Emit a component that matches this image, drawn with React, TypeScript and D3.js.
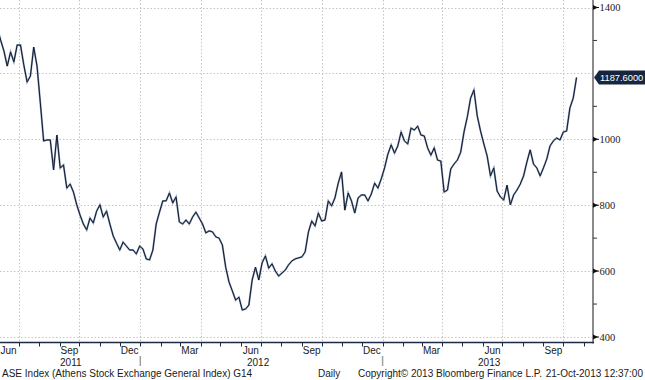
import React from "react";
import * as d3 from "d3";

// ---- data ----
const seriesStart = new Date(2011, 4, 30); // first sample
const sampleStepDays = 5;
const closes = [
  1338, 1301, 1268, 1222, 1265, 1235, 1286, 1286, 1226, 1174,
  1192, 1280, 1222, 1110, 995, 998, 998, 907, 1013, 913,
  922, 852, 864, 840, 801, 770, 743, 725, 761, 746,
  782, 801, 764, 782, 743, 707, 685, 664, 688, 676,
  664, 664, 652, 676, 667, 637, 634, 664, 743, 779,
  813, 813, 837, 807, 825, 749, 743, 755, 743, 764,
  779, 761, 743, 716, 722, 719, 704, 700, 679, 612,
  567, 540, 512, 521, 482, 485, 497, 573, 612, 573,
  625, 646, 609, 622, 600, 585, 594, 603, 619, 631,
  637, 640, 643, 658, 719, 752, 737, 776, 752, 755,
  813, 798, 822, 867, 901, 785, 837, 813, 776, 822,
  831, 831, 813, 834, 867, 852, 880, 913, 955, 983,
  958, 980, 1022, 995, 986, 1034, 1028, 1040, 1013, 1010,
  974, 952, 974, 937, 934, 840, 846, 910, 925, 937,
  961, 1022, 1068, 1125, 1150, 1071, 1025, 986, 949, 889,
  913, 843, 825, 816, 861, 801, 831, 846, 864, 889,
  931, 968, 925, 913, 889, 913, 940, 980, 995, 1004,
  998, 1022, 1025, 1095, 1125, 1187.6,
];
const yTickLabels = [400, 600, 800, 1000, 1400];
const yGridValues = [400, 600, 800, 1000, 1200, 1400];
const yMinorValues = [500, 700, 900, 1100, 1300];
const yearLabels = ["2011", "2012", "2013"];
const yearLabelDates = [new Date(2011, 8, 18), new Date(2012, 5, 27), new Date(2013, 5, 11)];
const yearBreaks = [new Date(2012, 0, 1), new Date(2013, 0, 1)];
const lastPrice = 1187.6;
const footerTitle = "ASE Index (Athens Stock Exchange General Index) G14";
const footerFreq = "Daily";
const footerCopy = "Copyright\u00A9 2013 Bloomberg Finance L.P.";
const footerStamp = "21-Oct-2013 12:37:00";

const W = 645;
const H = 380;
const plotRight = 593;
const axisY = 342.5;

export default function App() {
  const dates = closes.map((_, i) => d3.timeDay.offset(seriesStart, sampleStepDays * i));

  const x = d3
    .scaleTime()
    .domain([new Date(2011, 6, 1), new Date(2013, 9, 1)])
    .range([18.5, 563.3]);
  const y = d3.scaleLinear().domain([400, 1400]).range([337, 7.5]);

  const line = d3
    .line<number>()
    .x((_, i) => x(dates[i]))
    .y((d) => y(d));

  const months = d3.timeMonth.range(new Date(2011, 5, 1), new Date(2013, 10, 2));
  const quarterStarts = months.filter((m) => m.getMonth() % 3 === 0);
  const labelMonths = months.filter((m) => m.getMonth() % 3 === 2);
  const fmt = d3.timeFormat("%b");

  const yl = y(lastPrice);
  const sans = "'Liberation Sans', Arial, sans-serif";
  const serif = "'Liberation Serif', 'Times New Roman', serif";

  return (
    <svg
      width={W}
      height={H}
      style={{ position: "absolute", left: 0, top: 0, display: "block", background: "#fff" }}
    >
      <defs>
        <clipPath id="plotClip">
          <rect x={0} y={0} width={plotRight} height={axisY} />
        </clipPath>
      </defs>
      <rect x={0} y={0} width={W} height={H} fill="#fff" />

      {/* grid */}
      <g stroke="#c4c4c4" strokeWidth={1} strokeDasharray="1.5,2">
        {yGridValues.map((v) => (
          <line key={"gy" + v} x1={0} x2={plotRight} y1={Math.round(y(v)) + 0.5} y2={Math.round(y(v)) + 0.5} />
        ))}
        {quarterStarts.map((d) => (
          <line
            key={"gx" + d.getTime()}
            x1={Math.round(x(d)) + 0.5}
            x2={Math.round(x(d)) + 0.5}
            y1={0}
            y2={axisY}
          />
        ))}
      </g>

      {/* price line */}
      <g clipPath="url(#plotClip)">
        <path d={line(closes) || ""} fill="none" stroke="#8b9ab0" strokeWidth={1.9} strokeLinejoin="miter" />
        <path d={line(closes) || ""} fill="none" stroke="#0e1a31" strokeWidth={1} strokeLinejoin="miter" />
      </g>

      {/* right axis */}
      <line x1={plotRight} x2={plotRight} y1={0} y2={axisY + 1} stroke="#8a8a8a" strokeWidth={2} />
      {yMinorValues.map((v) => (
        <line key={"mn" + v} x1={plotRight} x2={plotRight + 4} y1={y(v)} y2={y(v)} stroke="#333" strokeWidth={1} />
      ))}
      {yTickLabels.map((v) => (
        <g key={"yt" + v}>
          <path
            d={`M${plotRight},${y(v) - 2.5} L${plotRight + 5},${y(v)} L${plotRight},${y(v) + 2.5} Z`}
            fill="#111"
          />
          <line x1={plotRight} x2={plotRight + 6} y1={y(v)} y2={y(v)} stroke="#111" strokeWidth={1} />
          <text x={plotRight + 6.5} y={y(v) + 3.5} fontFamily={serif} fontSize={10.5} fill="#222">
            {v}
          </text>
        </g>
      ))}

      {/* last price tag */}
      <path
        d={`M${plotRight + 1},${yl} L${plotRight + 6},${yl - 7} L${W},${yl - 7} L${W},${yl + 7} L${plotRight + 6},${yl + 7} Z`}
        fill="#172640"
      />
      <text x={plotRight + 7} y={yl + 3.4} fontFamily={sans} fontSize={9.3} fill="#fff">
        {lastPrice.toFixed(4)}
      </text>

      {/* bottom axis */}
      <line x1={0} x2={plotRight + 1} y1={axisY} y2={axisY} stroke="#1c2a45" strokeWidth={1.6} />
      {months.map((d) => (
        <line
          key={"mt" + d.getTime()}
          x1={Math.round(x(d)) + 0.5}
          x2={Math.round(x(d)) + 0.5}
          y1={axisY}
          y2={axisY + 4}
          stroke="#1c2a45"
          strokeWidth={1}
        />
      ))}
      {labelMonths.map((d) => (
        <text
          key={"ml" + d.getTime()}
          x={x(d3.timeDay.offset(d, 15))}
          y={354}
          textAnchor="middle"
          fontFamily={sans}
          fontSize={10}
          fill="#1a1a1a"
        >
          {fmt(d)}
        </text>
      ))}
      {yearBreaks.map((d) => (
        <line
          key={"yb" + d.getTime()}
          x1={x(d)}
          x2={x(d)}
          y1={356}
          y2={366}
          stroke="#a0a0a0"
          strokeWidth={1.5}
        />
      ))}
      {yearLabels.map((t, i) => (
        <text
          key={"yl" + t}
          x={x(yearLabelDates[i])}
          y={366}
          textAnchor="middle"
          fontFamily={sans}
          fontSize={10}
          fill="#1a1a1a"
        >
          {t}
        </text>
      ))}

      {/* footer */}
      <g fontFamily={sans} fontSize={10} fill="#1a1a1a">
        <text x={2} y={377}>{footerTitle}</text>
        <text x={318} y={377}>{footerFreq}</text>
        <text x={358} y={377}>{footerCopy}</text>
        <text x={643} y={377} textAnchor="end">{footerStamp}</text>
      </g>
    </svg>
  );
}
